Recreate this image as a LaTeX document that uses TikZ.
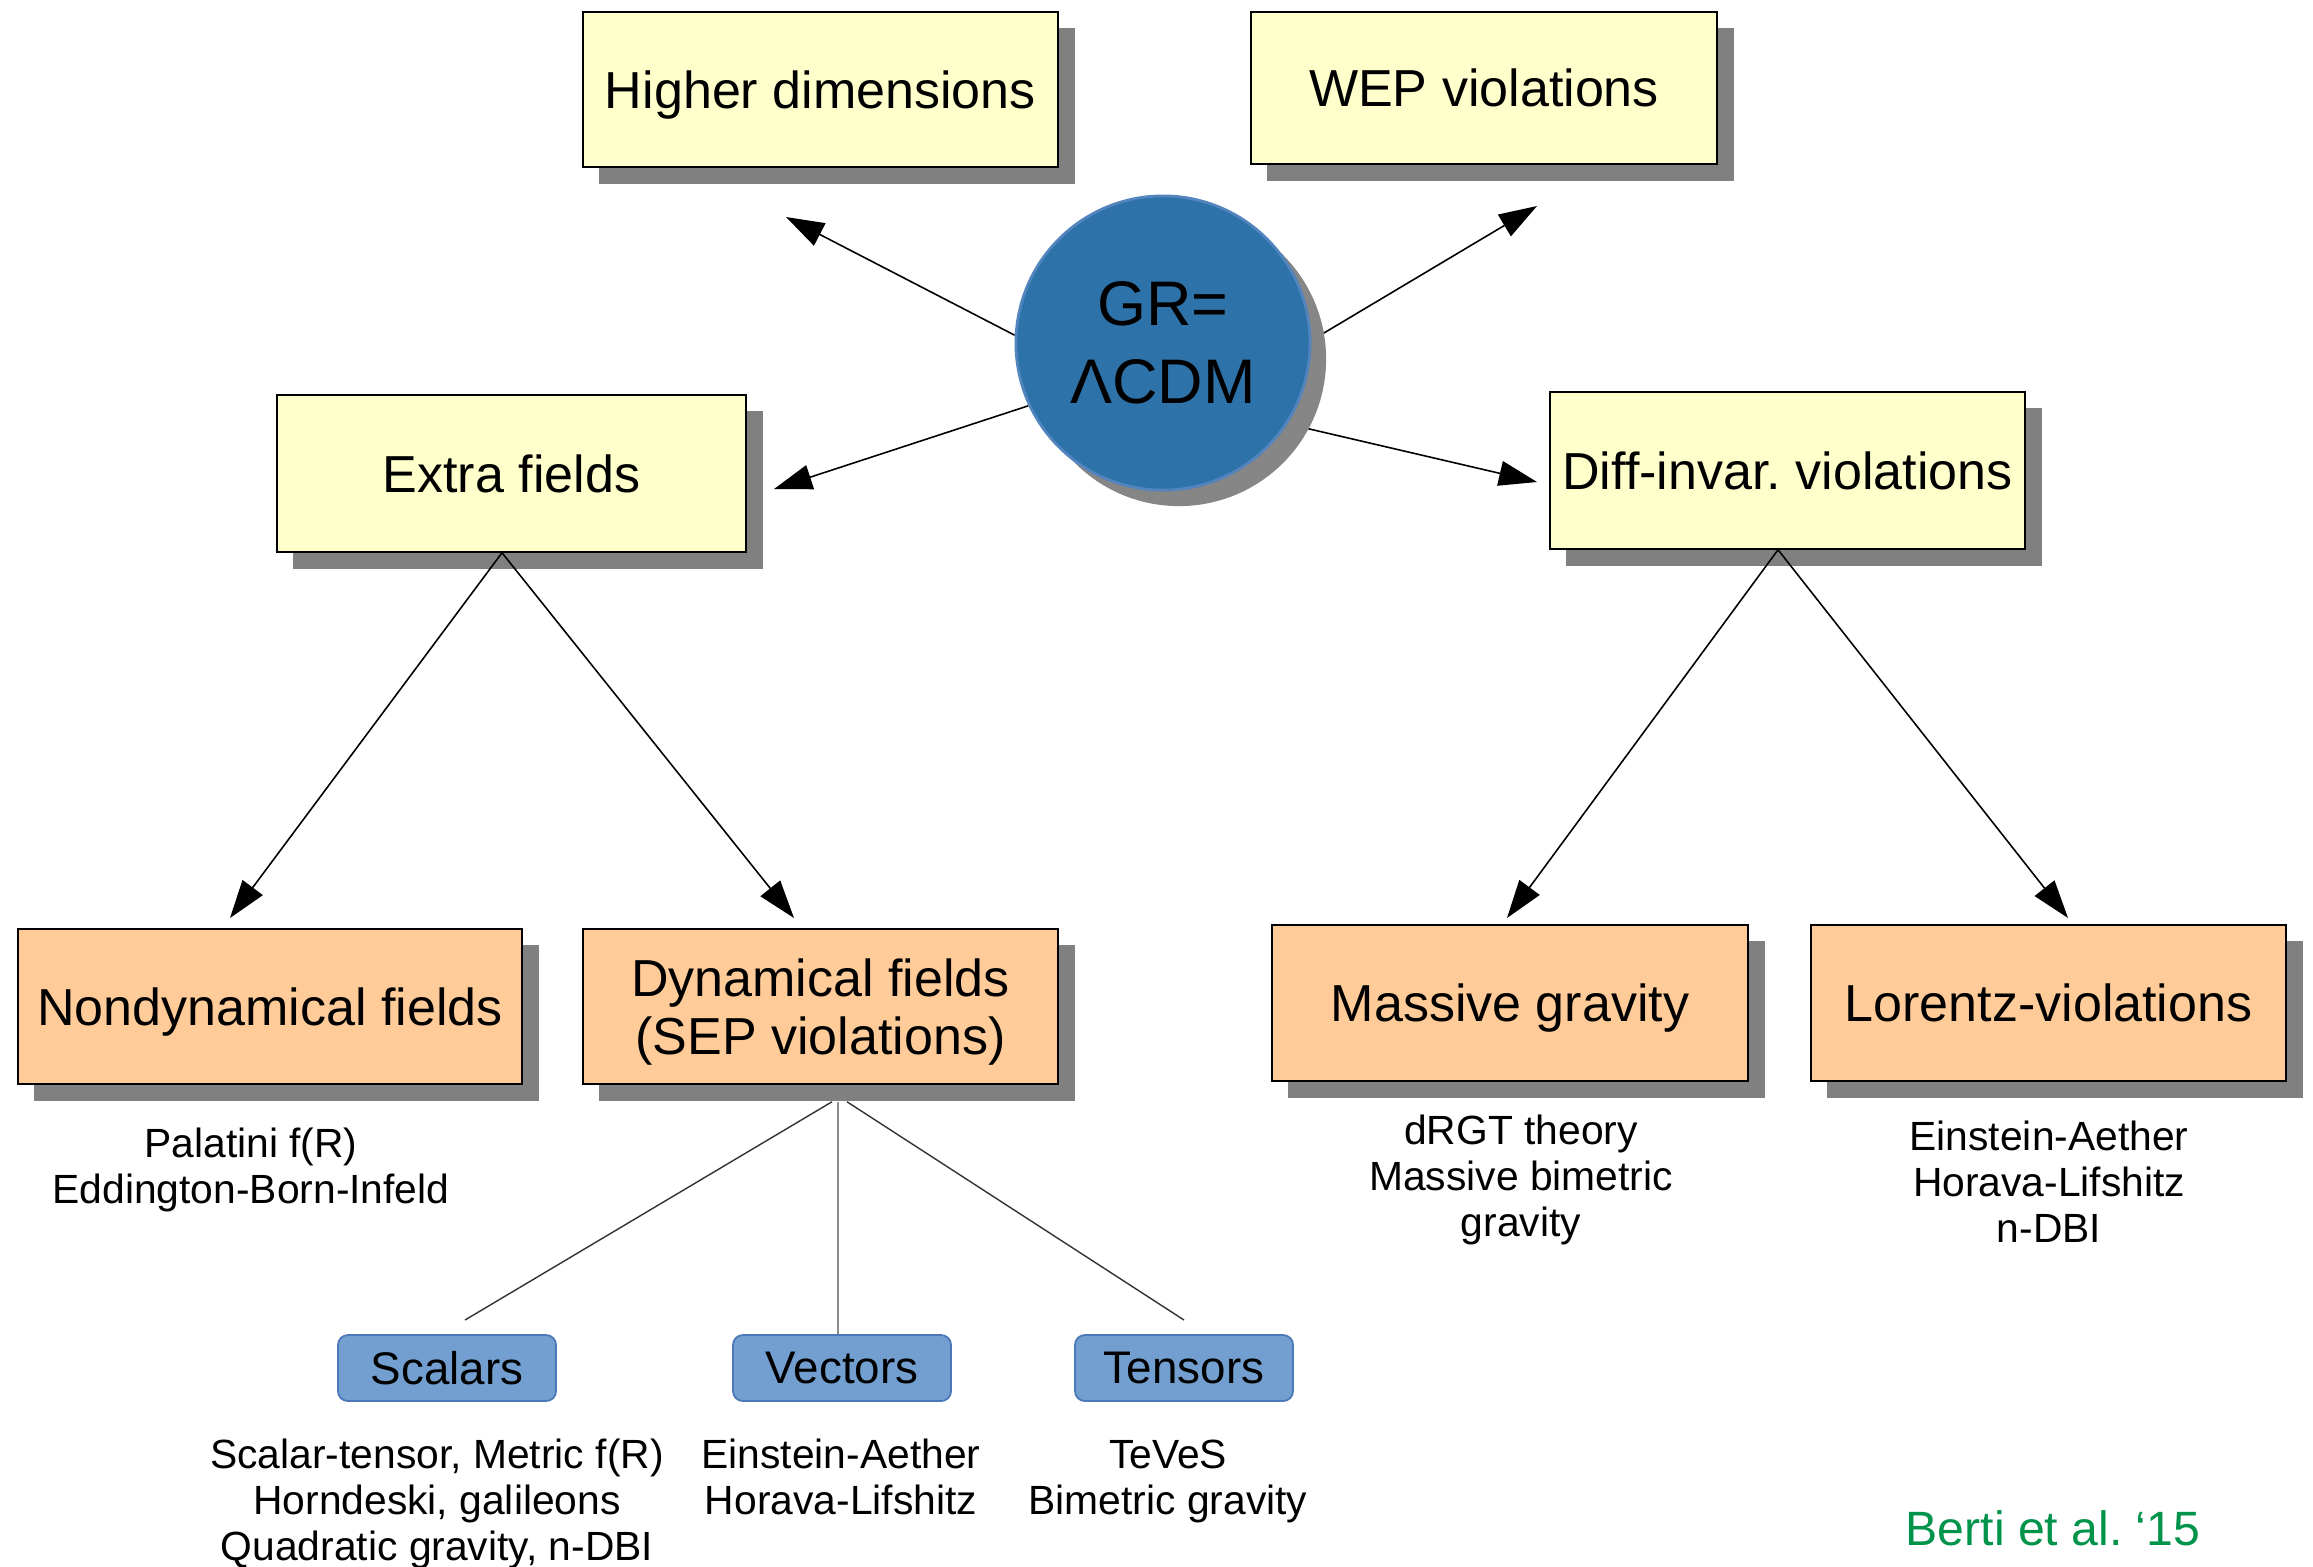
\documentclass[tikz,border=0pt]{standalone}
\usepackage{fontspec}
\setmainfont{Liberation Sans}
\usetikzlibrary{arrows.meta,shadows,calc}
\pgfdeclarelayer{background}
\pgfsetlayers{background,main}
\frenchspacing
\definecolor{yellowbox}{HTML}{FFFFCC}
\definecolor{orangebox}{HTML}{FFCC99}
\definecolor{bluebox}{HTML}{729FCF}
\definecolor{blueborder}{HTML}{4A78B8}
\definecolor{circblue}{HTML}{2D72A8}
\definecolor{circborder}{HTML}{5284BD}
\definecolor{shadowgray}{HTML}{808080}
\definecolor{bertigreen}{HTML}{00934A}
\begin{document}
\begin{tikzpicture}[x=0.01cm,y=-0.01cm,
  boxshadow/.style={general shadow={fill=shadowgray, shadow xshift=0.165cm, shadow yshift=-0.165cm}},
  bigbox/.style={boxshadow, draw=black, line width=0.4pt, inner sep=0pt, align=center,
    text depth=0pt, font=\fontsize{14.8}{16.5}\selectfont},
  ybox/.style={bigbox, fill=yellowbox},
  obox/.style={bigbox, fill=orangebox},
  sbox/.style={draw=blueborder, fill=bluebox, rounded corners=0.1cm, line width=0.5pt,
    minimum width=2.18cm, minimum height=0.66cm, inner sep=0pt,
    font=\fontsize{13}{15}\selectfont},
  sublabel/.style={align=center, inner sep=0pt, text depth=0pt, font=\fontsize{11.6}{13.1}\selectfont},
  conn/.style={draw=black!80, line width=0.4pt},
  arr/.style={draw=black, line width=0.45pt, -{Triangle[length=0.38cm,width=0.25cm]}},
]
\useasboundingbox (0,0) rectangle (2313,1566);

% top boxes
\node[ybox, minimum width=4.75cm, minimum height=1.55cm] (hd) at (820.5,89.5) {Higher dimensions};
\node[ybox, minimum width=4.66cm, minimum height=1.52cm] (wep) at (1484,88) {WEP violations};
\node[ybox, minimum width=4.69cm, minimum height=1.57cm] (ef) at (511.5,473.5) {Extra fields};
\node[ybox, minimum width=4.75cm, minimum height=1.57cm] (di) at (1787.5,470.5) {Diff-invar. violations};

% central circle
\node[circle, minimum size=2.94cm, inner sep=0pt, fill=circblue, draw=circborder, line width=0.8pt,
  general shadow={fill=shadowgray!95, shadow xshift=0.16cm, shadow yshift=-0.16cm},
  align=center, font=\fontsize{17.9}{22.2}\selectfont] (gr) at (1163,343) {GR=\\ΛCDM};

% orange boxes
\node[obox, minimum width=5.04cm, minimum height=1.55cm] (nd) at (270,1006.5) {Nondynamical fields};
\node[obox, minimum width=4.75cm, minimum height=1.55cm] (dy) at (820.5,1006.5) {Dynamical fields\\(SEP violations)};
\node[obox, minimum width=4.76cm, minimum height=1.56cm] (mg) at (1510,1003) {Massive gravity};
\node[obox, minimum width=4.75cm, minimum height=1.56cm] (lv) at (2048.5,1003) {Lorentz-violations};

% small blue boxes
\node[sbox] (sc) at (447,1368) {Scalars};
\node[sbox] (ve) at (842,1368) {Vectors};
\node[sbox] (te) at (1184,1368) {Tensors};

% sub labels
\node[sublabel] (ndl) at (251,1166) {Palatini f(R)\\Eddington-Born-Infeld};
\node[sublabel] (mgl) at (1521,1176) {dRGT theory\\Massive bimetric\\gravity};
\node[sublabel] (lvl) at (2049,1182) {Einstein-Aether\\Horava-Lifshitz\\n-DBI};
\node[sublabel] (scl) at (437,1500) {Scalar-tensor, Metric f(R)\\Horndeski, galileons\\Quadratic gravity, n-DBI};
\node[sublabel] (vel) at (841,1477) {Einstein-Aether\\Horava-Lifshitz};
\node[sublabel] (tel) at (1168,1477) {TeVeS\\Bimetric gravity};

\node[inner sep=0pt, text=bertigreen, font=\fontsize{13.7}{16}\selectfont] (berti) at (2053,1528) {Berti et al. ‘15};

% free arrow ends
\coordinate (hdTip) at (786,217);
\coordinate (wepTip) at (1537,206);
\coordinate (efTip) at (774,489);
\coordinate (diTip) at (1537,482);
\coordinate (ndTip) at (230,918);
\coordinate (dyTip) at (794,918);
\coordinate (mgTip) at (1507,918);
\coordinate (lvTip) at (2068,918);
\coordinate (scEnd) at (465,1320);
\coordinate (teEnd) at (1184,1320);

% tree arrows drawn over the box shadows
\draw[arr] ($(ef.south)+(-9.5,0)$) -- (ndTip);
\draw[arr] ($(ef.south)+(-9.5,0)$) -- (dyTip);
\draw[arr] ($(di.south)+(-9.5,0)$) -- (mgTip);
\draw[arr] ($(di.south)+(-9.5,0)$) -- (lvTip);

\begin{pgfonlayer}{background}
  \draw[arr] (gr.177) -- (hdTip);
  \draw[arr] (gr.1) -- (wepTip);
  \draw[arr] (gr.205) -- (efTip);
  \draw[arr] (gr.327) -- (diTip);
  \draw[conn] ($(dy.south)+(11.5,17)$) -- (scEnd);
  \draw[conn, draw=black!45, line width=0.6pt] ($(dy.south)+(17.5,17)$) -- (ve.north -| 838,0);
  \draw[conn] ($(dy.south)+(26.5,17)$) -- (teEnd);
\end{pgfonlayer}
\end{tikzpicture}
\end{document}
